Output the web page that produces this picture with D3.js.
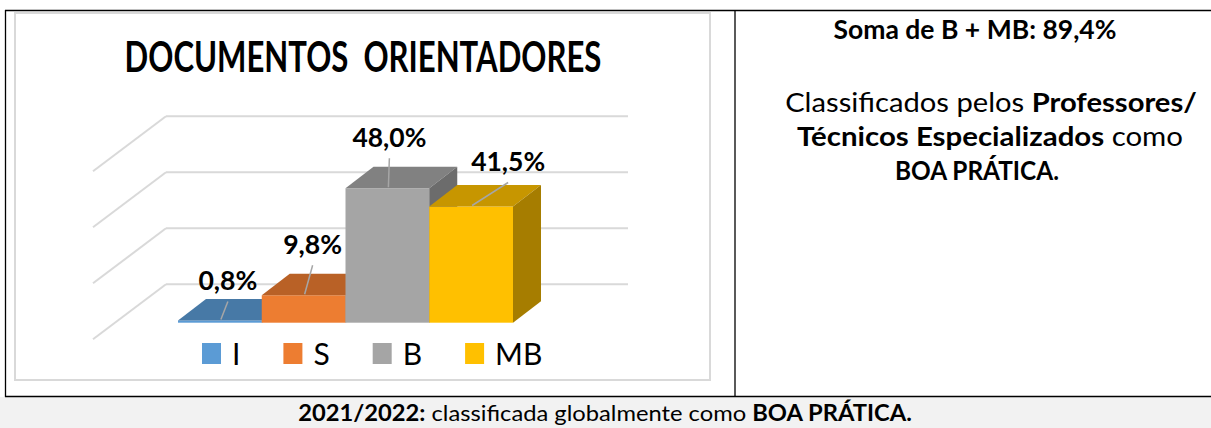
<!DOCTYPE html>
<html>
<head>
<meta charset="utf-8">
<script src="https://cdn.jsdelivr.net/npm/d3@7"></script>
<style>
  body { margin: 0; background: #fff; }
  text { font-family: Lato, "Open Sans", sans-serif; fill: #000; white-space: pre; }
</style>
</head>
<body>
<div class="vis"></div>
<script>
// chart data
const categories = ["I", "S", "B", "MB"];
const values = [0.8, 9.8, 48.0, 41.5];
const barColors = ["#5b9bd5", "#ed7d31", "#a5a5a5", "#ffc000"];
const gridTicks = [0, 20, 40, 60];
const chartTitle = "DOCUMENTOS  ORIENTADORES";

// text of the right cell and the bottom row
const summaryLine = "Soma de B + MB: 89,4%";
const noteLines = [
  [["Classificados pelos ", 400], ["Professores/", 700]],
  [["Técnicos Especializados", 700], [" como", 400]],
  [["BOA PRÁTICA.", 700]]
];
const footerParts = [["2021/2022:", 700], [" classificada globalmente como ", 400], ["BOA PRÁTICA.", 700]];

const W = 1211, H = 428;

const svg = d3.select(".vis")
  .append("svg")
  .attr("width", W)
  .attr("height", H);

// stretch a text horizontally round its centre so it fills a given width
function fitX(sel, w) {
  sel.each(function () {
    const bb = this.getBBox();
    const k = w / bb.width;
    const cx = bb.x + bb.width / 2;
    d3.select(this).attr("transform", `translate(${cx},0) scale(${k},1) translate(${-cx},0)`);
  });
}

// bottom row background
svg.append("rect")
  .attr("x", 0).attr("y", 397)
  .attr("width", W).attr("height", H - 397)
  .attr("fill", "#f2f2f2");

// table lines
const tableLines = [
  [5, 10.5, W, 10.5],
  [5, 396.5, W, 396.5],
  [5.5, 10, 5.5, 397],
  [735, 10, 735, 397]
];
svg.selectAll(".tline")
  .data(tableLines)
  .enter().append("line")
  .attr("class", "tline")
  .attr("x1", d => d[0]).attr("y1", d => d[1])
  .attr("x2", d => d[2]).attr("y2", d => d[3])
  .attr("stroke", "#000")
  .attr("stroke-width", 1.3);

// chart frame
svg.append("rect")
  .attr("x", 15).attr("y", 13)
  .attr("width", 695).attr("height", 367)
  .attr("fill", "#fff")
  .attr("stroke", "#d9d9d9")
  .attr("stroke-width", 2);

// title
svg.append("text")
  .attr("x", 363).attr("y", 72)
  .attr("text-anchor", "middle")
  .style("font-size", "42px")
  .style("font-weight", 700)
  .text(chartTitle)
  .call(fitX, 477);

// scales
const xScale = d3.scaleBand().domain(categories).range([178, 513]).padding(0);
const yScale = d3.scaleLinear().domain([0, 60]).range([322.7, 154.7]);

// oblique depth of the bars, the back wall and the side wall
const depth = { dx: 28, dy: 21.5 };
const wall = { left: 166, right: 628, dy: 38.4 };
const side = { dx: 73, dy: 55 };

const g = svg.append("g");

// back wall gridlines
g.selectAll(".grid")
  .data(gridTicks)
  .enter().append("line")
  .attr("class", "grid")
  .attr("x1", wall.left)
  .attr("x2", wall.right)
  .attr("y1", d => yScale(d) - wall.dy)
  .attr("y2", d => yScale(d) - wall.dy)
  .attr("stroke", "#d9d9d9")
  .attr("stroke-width", 2);

// side wall gridlines
g.selectAll(".sgrid")
  .data(gridTicks)
  .enter().append("line")
  .attr("class", "sgrid")
  .attr("x1", wall.left)
  .attr("x2", wall.left - side.dx)
  .attr("y1", d => yScale(d) - wall.dy)
  .attr("y2", d => yScale(d) - wall.dy + side.dy)
  .attr("stroke", "#d9d9d9")
  .attr("stroke-width", 2);

// 3D bars: front, top and right side
const bars = g.selectAll(".bar")
  .data(categories.map((c, i) => ({ cat: c, value: values[i], color: barColors[i] })))
  .enter().append("g")
  .attr("class", "bar");

bars.each(function (d) {
  const x0 = xScale(d.cat), x1 = x0 + xScale.bandwidth();
  const yTop = yScale(d.value), yBot = yScale(0);
  const el = d3.select(this);
  el.append("rect")
    .attr("x", x0).attr("y", yTop)
    .attr("width", x1 - x0).attr("height", yBot - yTop)
    .attr("fill", d.color);
  el.append("path")
    .attr("d", `M${x0},${yTop}L${x0 + depth.dx},${yTop - depth.dy}L${x1 + depth.dx},${yTop - depth.dy}L${x1},${yTop}Z`)
    .attr("fill", d3.color(d.color).darker(0.7));
  el.append("path")
    .attr("d", `M${x1},${yTop}L${x1 + depth.dx},${yTop - depth.dy}L${x1 + depth.dx},${yBot - depth.dy}L${x1},${yBot}Z`)
    .attr("fill", d3.color(d.color).darker(1.2));
});

// data labels with leader lines
const labelNudge = { I: [8, -30], S: [9, -41], B: [2, -41], MB: [37, -35] };
const fmt = v => d3.format(".1f")(v).replace(".", ",") + "%";

bars.each(function (d) {
  const fx = xScale(d.cat) + xScale.bandwidth() / 2;
  const fy = yScale(d.value);
  const [nx, ny] = labelNudge[d.cat];
  const el = d3.select(this);
  el.append("line")
    .attr("x1", fx + nx).attr("y1", fy + ny + 11)
    .attr("x2", fx + 1).attr("y2", fy - 1)
    .attr("stroke", "#a6a6a6")
    .attr("stroke-width", 1.5);
  el.append("text")
    .attr("x", fx + nx).attr("y", fy + ny)
    .attr("text-anchor", "middle")
    .style("font-size", "27px")
    .style("font-weight", 700)
    .text(fmt(d.value))
    .call(fitX, d.value >= 10 ? 74 : 59);
});

// legend
const legend = svg.append("g");
let lx = 202;
categories.forEach((c, i) => {
  legend.append("rect")
    .attr("x", lx).attr("y", 343)
    .attr("width", 19).attr("height", 21)
    .attr("fill", barColors[i]);
  const t = legend.append("text")
    .attr("x", lx + 30).attr("y", 365)
    .style("font-size", "30px")
    .text(c);
  const w = t.node().getComputedTextLength();
  lx += 30 + w + 43;
});

// right cell text
svg.append("text")
  .attr("x", 975).attr("y", 39)
  .attr("text-anchor", "middle")
  .style("font-size", "26px")
  .style("font-weight", 700)
  .text(summaryLine)
  .call(fitX, 283);

const noteWidths = [412, 386, 164];
const noteCenters = [991, 990, 977];
noteLines.forEach((parts, i) => {
  const t = svg.append("text")
    .attr("x", noteCenters[i]).attr("y", 112 + i * 34)
    .attr("text-anchor", "middle")
    .style("font-size", "26px");
  t.selectAll("tspan")
    .data(parts)
    .enter().append("tspan")
    .style("font-weight", d => d[1])
    .text(d => d[0]);
  t.call(fitX, noteWidths[i]);
});

// bottom row text
const foot = svg.append("text")
  .attr("x", 605).attr("y", 421)
  .attr("text-anchor", "middle")
  .style("font-size", "22px");
foot.selectAll("tspan")
  .data(footerParts)
  .enter().append("tspan")
  .style("font-weight", d => d[1])
  .text(d => d[0]);
foot.call(fitX, 614);
</script>
</body>
</html>
